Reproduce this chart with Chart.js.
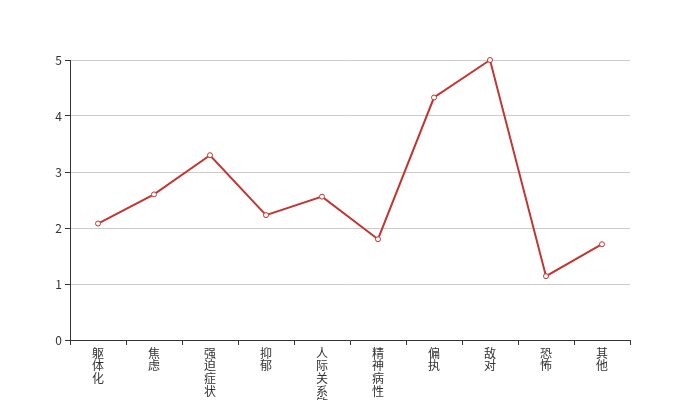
<!DOCTYPE html>
<html>
<head>
<meta charset="utf-8">
<script src="https://cdn.jsdelivr.net/npm/chart.js@4/dist/chart.umd.min.js"></script>
<style>
html,body{margin:0;padding:0;background:#fff;}
#wrap{width:700px;height:400px;}
</style>
</head>
<body>
<div id="wrap"><canvas id="c" width="700" height="400"></canvas></div>
<script>
const categories = ['躯体化', '焦虑', '强迫症状', '抑郁', '人际关系敏感', '精神病性', '偏执', '敌对', '恐怖', '其他'];
const values = [2.08, 2.60, 3.30, 2.23, 2.56, 1.80, 4.33, 5.00, 1.14, 1.71];
const yTicks = [0, 1, 2, 3, 4, 5];

const verticalLabels = categories.map(s => s.split(''));
const FONT = "'Noto Sans CJK SC', 'Noto Sans', sans-serif";

new Chart(document.getElementById('c'), {
  type: 'line',
  data: {
    labels: verticalLabels,
    datasets: [{
      data: values,
      borderColor: '#c23531',
      backgroundColor: '#ffffff',
      borderWidth: 2,
      tension: 0,
      pointRadius: 2.5,
      pointBorderWidth: 1,
      pointBackgroundColor: '#ffffff',
      pointBorderColor: '#c23531',
      fill: false,
      clip: false
    }]
  },
  options: {
    responsive: false,
    animation: false,
    layout: { padding: { top: 60, right: 70, left: 0, bottom: 0 } },
    plugins: { legend: { display: false }, tooltip: { enabled: false } },
    scales: {
      x: {
        type: 'category',
        offset: true,
        afterFit: s => { s.height = 60; },
        grid: { display: true, drawOnChartArea: false, offset: true, tickLength: 5, tickColor: '#333', color: '#333' },
        border: { color: '#333', width: 1 },
        ticks: {
          maxRotation: 0, minRotation: 0, autoSkip: false, padding: 2,
          color: '#333',
          font: { family: FONT, size: 12, lineHeight: 1.05 }
        }
      },
      y: {
        min: 0, max: 5,
        afterFit: s => { s.width = 70; },
        afterBuildTicks: s => { s.ticks = yTicks.map(v => ({ value: v })); },
        grid: { color: '#cccccc', tickColor: '#333', tickLength: 5, lineWidth: 1 },
        border: { color: '#333', width: 1 },
        ticks: { color: '#333', padding: 3, font: { family: FONT, size: 12 } }
      }
    }
  }
});
</script>
</body>
</html>
